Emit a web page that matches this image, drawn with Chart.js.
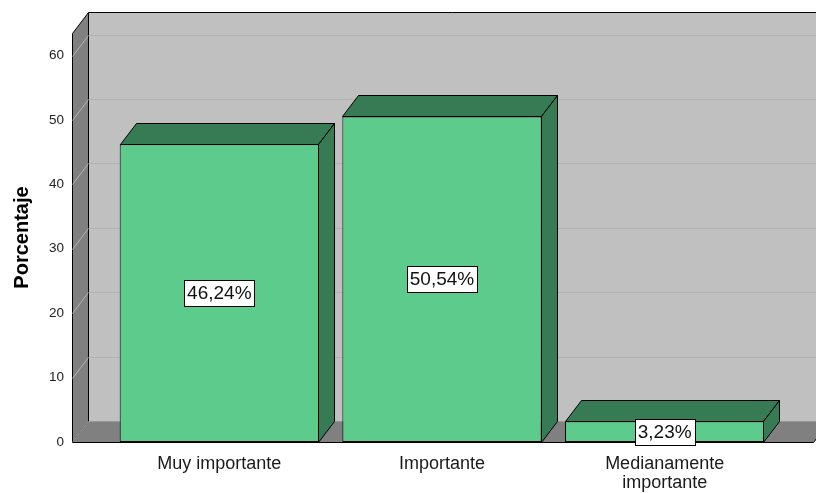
<!DOCTYPE html>
<html lang="es">
<head>
<meta charset="UTF-8">
<title>Porcentaje</title>
<script src="https://cdn.jsdelivr.net/npm/chart.js"></script>
<style>
  body { margin: 0; background: #fff; }
  #wrap { width: 816px; height: 493px; }
</style>
</head>
<body>
<div id="wrap"><canvas id="barChart" width="816" height="493"></canvas></div>
<script>
  const categories = ['Muy importante', 'Importante', ['Medianamente', 'importante']];
  const percentages = [46.24, 50.54, 3.23];
  const valueLabels = ['46,24%', '50,54%', '3,23%'];
  const yTicks = [0, 10, 20, 30, 40, 50, 60];
  const yMax = 63.5;

  // depth of the 3d box
  const DX = 16, DY = -21;
  const FONT = 'Arial, "Liberation Sans", sans-serif';

  function poly(ctx, pts, fill) {
    ctx.beginPath();
    ctx.moveTo(pts[0][0], pts[0][1]);
    for (let k = 1; k < pts.length; k++) ctx.lineTo(pts[k][0], pts[k][1]);
    ctx.closePath();
    ctx.fillStyle = fill;
    ctx.fill();
    ctx.strokeStyle = '#000';
    ctx.lineWidth = 1;
    ctx.stroke();
  }

  const box3d = {
    id: 'box3d',
    beforeDraw(chart) {
      const { ctx, chartArea: a, scales: { y } } = chart;
      const x0 = a.left - 35.5, x1 = a.right + 37.5;
      const top = Math.round(a.top) + 0.5, bot = Math.round(a.bottom) + 0.5;
      ctx.save();
      ctx.fillStyle = '#c0c0c0';
      ctx.fillRect(x0 + DX, top + DY, chart.width, bot - top);

      // grid lines on the back wall
      ctx.lineWidth = 1;
      ctx.strokeStyle = '#b1b1b1';
      yTicks.forEach(v => {
        const py = Math.round(y.getPixelForValue(v)) + 0.5 + DY;
        ctx.beginPath();
        ctx.moveTo(x0 + DX, py);
        ctx.lineTo(chart.width, py);
        ctx.stroke();
      });

      // left wall
      poly(ctx, [[x0, top], [x0 + DX, top + DY], [x0 + DX, bot + DY], [x0, bot]], '#808080');
      ctx.strokeStyle = '#b4b4b4';
      yTicks.forEach(v => {
        const py = Math.round(y.getPixelForValue(v)) + 0.5;
        ctx.beginPath();
        ctx.moveTo(x0, py);
        ctx.lineTo(x0 + DX, py + DY);
        ctx.stroke();
      });

      // floor
      ctx.beginPath();
      ctx.moveTo(x0, bot);
      ctx.lineTo(x1, bot);
      ctx.lineTo(x1 + DX, bot + DY);
      ctx.lineTo(x0 + DX, bot + DY);
      ctx.closePath();
      ctx.fillStyle = '#808080';
      ctx.fill();
      ctx.strokeStyle = '#000';
      ctx.beginPath();
      ctx.moveTo(x0, bot);
      ctx.lineTo(x1, bot);
      ctx.lineTo(x1 + DX, bot + DY);
      ctx.stroke();

      // top edge of the back wall
      ctx.beginPath();
      ctx.moveTo(x0 + DX, top + DY);
      ctx.lineTo(chart.width, top + DY);
      ctx.stroke();
      ctx.restore();
    },
    afterDatasetsDraw(chart) {
      const { ctx, scales: { y } } = chart;
      const meta = chart.getDatasetMeta(0);
      ctx.save();
      meta.data.forEach((bar, i) => {
        const l = Math.round(bar.x - bar.width / 2) + 0.5;
        const r = Math.round(bar.x + bar.width / 2) - 0.5;
        const t = Math.round(bar.y) + 0.5;
        const b = Math.round(bar.base) + 0.5;
        poly(ctx, [[l, t], [l + DX, t + DY], [r + DX, t + DY], [r, t]], '#367b53');
        poly(ctx, [[r, t], [r + DX, t + DY], [r + DX, b + DY], [r, b]], '#367b53');
      });

      // value boxes
      ctx.font = '19px ' + FONT;
      ctx.textAlign = 'center';
      ctx.textBaseline = 'middle';
      meta.data.forEach((bar, i) => {
        const cy = Math.round(y.getPixelForValue(percentages[i] / 2));
        const w = Math.round(ctx.measureText(valueLabels[i]).width) + 6;
        const bx = Math.round(bar.x - w / 2) + 0.5;
        ctx.fillStyle = '#fff';
        ctx.fillRect(bx, cy - 13 + 0.5, w, 26);
        ctx.strokeStyle = '#000';
        ctx.lineWidth = 1;
        ctx.strokeRect(bx, cy - 13 + 0.5, w, 26);
        ctx.fillStyle = '#111';
        ctx.fillText(valueLabels[i], bar.x, cy + 1);
      });
      ctx.restore();
    }
  };

  const ctx = document.getElementById('barChart').getContext('2d');
  const barChart = new Chart(ctx, {
    type: 'bar',
    data: {
      labels: categories,
      datasets: [{
        data: percentages,
        backgroundColor: '#5ccb8b',
        borderColor: '#000',
        borderWidth: 1,
        borderSkipped: false,
        categoryPercentage: 1,
        barPercentage: 0.895
      }]
    },
    options: {
      responsive: false,
      animation: false,
      layout: { padding: { top: 33, right: 40, left: 0, bottom: 0 } },
      plugins: {
        legend: { display: false },
        tooltip: { enabled: false }
      },
      scales: {
        x: {
          grid: { display: false, drawTicks: false },
          border: { display: false },
          ticks: {
            color: '#1a1a1a',
            padding: 13,
            maxRotation: 0,
            autoSkip: false,
            font: { family: FONT, size: 18, lineHeight: 1.05 }
          },
          afterFit(s) { s.height = 51; }
        },
        y: {
          min: 0,
          max: yMax,
          grid: { display: false, drawTicks: false },
          border: { display: false },
          ticks: {
            stepSize: 10,
            includeBounds: false,
            color: '#222',
            padding: 44,
            font: { family: FONT, size: 13.5 }
          },
          title: {
            display: true,
            text: 'Porcentaje',
            color: '#000',
            padding: { top: 10, bottom: 0 },
            font: { family: FONT, size: 20, weight: 'bold' }
          },
          afterFit(s) {
            s.width = 108;
            s.paddingTop = 0;
            s.paddingBottom = 0;
          }
        }
      }
    },
    plugins: [box3d]
  });
</script>
</body>
</html>
